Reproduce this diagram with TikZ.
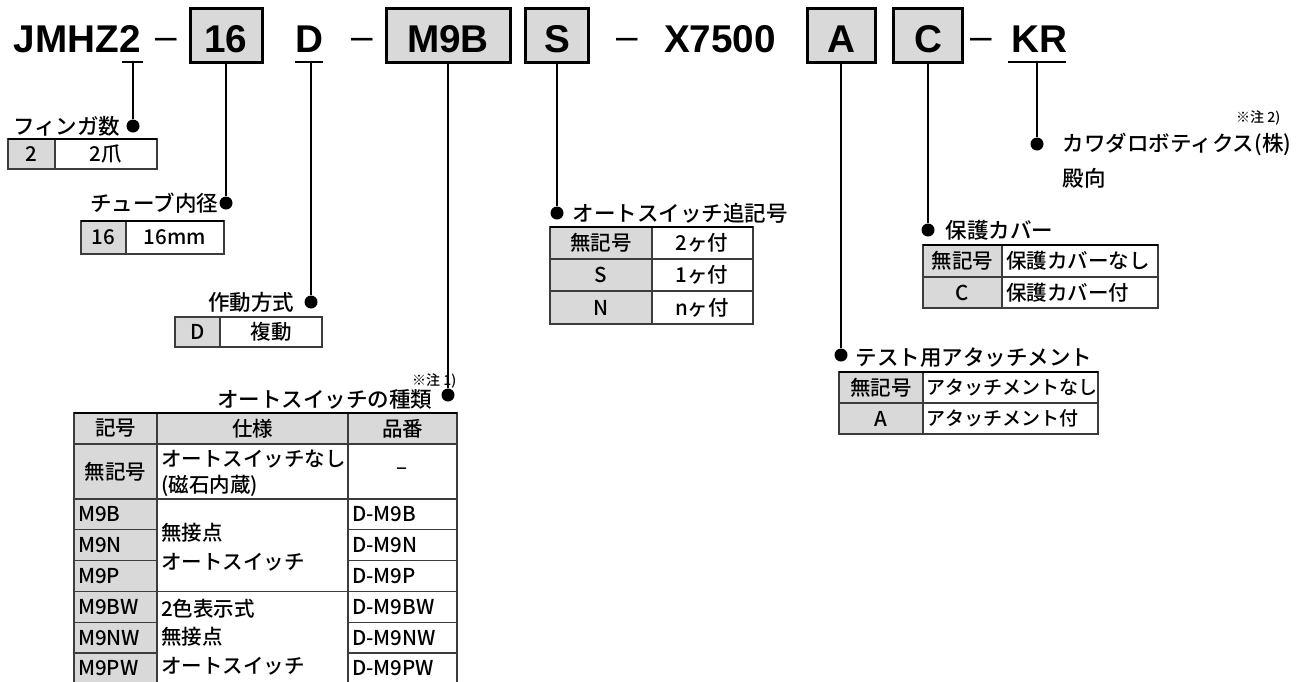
\documentclass[tikz,border=0pt]{standalone}
\usepackage{fontspec}
\setmainfont{Liberation Sans}
\newfontfamily\jp{Noto Sans CJK JP Medium}
\usepackage{tikz}
\usetikzlibrary{positioning,calc}
\definecolor{keygray}{RGB}{217,217,217}
\definecolor{rulegray}{RGB}{60,60,60}
\tikzset{
  % 品番の文字
  partno/.style={font=\fontsize{38.7}{40}\selectfont\bfseries, inner sep=0pt, anchor=base},
  partdash/.style={font=\fontsize{38.7}{40}\selectfont, inner sep=0pt, anchor=base},
  % 品番の枠
  partbox/.style={partno, draw, line width=3pt, fill=keygray, text height=44pt, text depth=10pt},
  % 引出線と黒丸
  wire/.style={line width=2pt},
  uline/.style={line width=2.2pt},
  pin/.style={circle, fill, inner sep=0pt, minimum size=13pt},
  % 見出しと注記
  lbl/.style={font=\jp\fontsize{21.5}{24}\selectfont, inner sep=0pt},
  remark/.style={font=\jp\fontsize{14}{16}\selectfont, inner sep=0pt},
  % 表
  cell/.style={font=\jp\fontsize{20.5}{26}\selectfont, inner sep=0pt},
  tline/.style={line width=1.2pt, draw=rulegray},
  ttop/.style={line width=2.6pt},
}

\begin{document}
\begin{tikzpicture}[x=1pt, y=-1pt]
  \useasboundingbox (0,0) rectangle (1309,681);
  \clip (0,0) rectangle (1309,681);

  % Title
  \node[partno, anchor=base east] (t2) at (141,52) {2};
  \node[partno, anchor=base east] (t0) at (t2.base west) {JMHZ};
  \node[partdash] (m1) at (166,49) {–};
  \node[partbox, minimum width=72pt] (b16) at (226,52) {16};
  \node[partno] (tD) at (309,52) {D};
  \node[partdash] (m2) at (362,49) {–};
  \node[partbox, minimum width=124pt] (bM9B) at (448,52) {M9B};
  \node[partbox, minimum width=63pt] (bS) at (557,52) {S};
  \node[partdash] (m3) at (627,49) {–};
  \node[partno] (tX) at (720,52) {X7500};
  \node[partbox, minimum width=68pt] (bA) at (841,52) {A};
  \node[partbox, minimum width=69pt] (bC) at (928,52) {C};
  \node[partdash] (m4) at (981,49) {–};
  \node[partno] (tKR) at (1039,52) {KR};

  % Underlines
  \draw[uline] (122,62) -- (143,62);
  \draw[uline] (295,62) -- (323,62);
  \draw[uline] (1008,62) -- (1066,62);
  \coordinate (u2) at (133,62);
  \coordinate (uD) at (311,62);
  \coordinate (uKR) at (1037,62);

  % Pins
  \node[pin] (p2) at (133,126) {};
  \node[pin] (p16) at (226,203) {};
  \node[pin] (pD) at (311,302) {};
  \node[pin] (pM9B) at (448,395) {};
  \node[pin] (pS) at (557,213) {};
  \node[pin] (pA) at (841,355) {};
  \node[pin] (pC) at (928,230) {};
  \node[pin] (pKR) at (1037,144) {};

  % Leader lines
  \draw[wire] (u2) -- (p2);
  \draw[wire] (b16) -- (p16);
  \draw[wire] (uD) -- (pD);
  \draw[wire] (bM9B) -- (pM9B);
  \draw[wire] (bS) -- (pS);
  \draw[wire] (bA) -- (pA);
  \draw[wire] (bC) -- (pC);
  \draw[wire] (uKR) -- (pKR);

  % Labels
  \node[lbl, left=6pt of p2] (l2) {フィンガ数};
  \node[lbl, left=1pt of p16] (l16) {チューブ内径};
  \node[lbl, left=10pt of pD] (lD) {作動方式};
  \node[lbl, left=9pt of pM9B, yshift=-4pt] (lM9B) {オートスイッチの種類};
  \node[remark, anchor=west] (n1) at (412,381) {※注 1)};
  \node[lbl, right=9pt of pS] (lS) {オートスイッチ追記号};
  \node[lbl, right=11pt of pC] (lC) {保護カバー};
  \node[lbl, right=8pt of pA, yshift=-3pt] (lA) {テスト用アタッチメント};
  \node[lbl, right=19pt of pKR] (lKR) {カワダロボティクス(株)};
  \node[lbl, anchor=west] (lKR2) at ($(lKR.west)+(0,34)$) {殿向};
  \node[remark, anchor=west] (n2) at (1236,118) {※注 2)};

  % Table: フィンガ数
  \fill[keygray] (8,139) rectangle (55,169);
  \draw[tline] (8,139) rectangle (157,169) (55,139) -- (55,169);
  \draw[ttop] (8,139) -- (157,139);
  \node[cell] (c2a) at (31.5,154) {2};
  \node[cell] (c2b) at (106,154) {2爪};

  % Table: チューブ内径
  \fill[keygray] (81,221) rectangle (126,254);
  \draw[tline] (81,221) rectangle (224,254) (126,221) -- (126,254);
  \draw[ttop] (81,221) -- (224,221);
  \node[cell] (c16a) at (103.5,237.5) {16};
  \node[cell] (c16b) at (175,237.5) {16mm};

  % Table: 作動方式
  \fill[keygray] (175,317) rectangle (220,347);
  \draw[tline] (175,317) rectangle (322,347) (220,317) -- (220,347);
  \node[cell] (cDa) at (197.5,332) {D};
  \node[cell] (cDb) at (271,332) {複動};

  % Table: オートスイッチ追記号
  \fill[keygray] (550,227) rectangle (652,324);
  \draw[tline] (550,227) rectangle (753,324) (652,227) -- (652,324);
  \draw[tline] (550,259) -- (753,259) (550,291) -- (753,291);
  \draw[ttop] (550,227) -- (753,227);
  \node[cell] (cSa) at (601,243) {無記号};
  \node[cell] (cSb) at (702,243) {2ヶ付};
  \node[cell] (cSc) at (601,275) {S};
  \node[cell] (cSd) at (702,275) {1ヶ付};
  \node[cell] (cSe) at (601,307.5) {N};
  \node[cell] (cSf) at (702,307.5) {nヶ付};

  % Table: 保護カバー
  \fill[keygray] (923,245) rectangle (1002,308);
  \draw[tline] (923,245) rectangle (1158,308) (1002,245) -- (1002,308);
  \draw[tline] (923,277) -- (1158,277);
  \draw[ttop] (923,245) -- (1158,245);
  \node[cell] (cCa) at (962.5,261) {無記号};
  \node[cell, anchor=west] (cCb) at (1006,261) {保護カバーなし};
  \node[cell] (cCc) at (962.5,292.5) {C};
  \node[cell, anchor=west] (cCd) at (1006,292.5) {保護カバー付};

  % Table: テスト用アタッチメント
  \fill[keygray] (839,372) rectangle (923,434);
  \draw[tline] (839,372) rectangle (1098,434) (923,372) -- (923,434);
  \draw[tline] (839,403) -- (1098,403);
  \draw[ttop] (839,372) -- (1098,372);
  \node[cell] (cAa) at (881,387.5) {無記号};
  \node[cell, anchor=west, font=\jp\fontsize{19}{22}\selectfont] (cAb) at (926,387.5) {アタッチメントなし};
  \node[cell] (cAc) at (881,418.5) {A};
  \node[cell, anchor=west, font=\jp\fontsize{19}{22}\selectfont] (cAd) at (926,418.5) {アタッチメント付};

  % Table: オートスイッチの種類
  \fill[keygray] (74,413) rectangle (457,444);
  \fill[keygray] (74,444) rectangle (157,690);
  \draw[tline] (74,413) rectangle (457,690);
  \draw[tline] (157,413) -- (157,690) (348,413) -- (348,690);
  \draw[tline] (74,444) -- (457,444) (74,499) -- (457,499) (74,591.4) -- (457,591.4);
  \foreach \y in {529.8,560.6,622.2,653} {
    \draw[tline] (74,\y) -- (157,\y) (348,\y) -- (457,\y);
  }
  \draw[ttop] (74,413) -- (457,413);
  \node[cell] (hKey) at (115.5,428.5) {記号};
  \node[cell] (hSpec) at (252.5,428.5) {仕様};
  \node[cell] (hNo) at (402.5,428.5) {品番};
  \node[cell] (kNone) at (115.5,471.5) {無記号};
  \node[cell, anchor=west, align=left] (sNone) at (161,473) {オートスイッチなし\\(磁石内蔵)};
  \node[cell] (dNone) at (402.5,471.5) {–};
  \foreach \code [count=\i] in {M9B,M9N,M9P,M9BW,M9NW,M9PW} {
    \pgfmathsetmacro{\ymid}{499+(\i-1)*30.8+15.4}
    \node[cell, anchor=west] (k\code) at (78,\ymid) {\code};
    \node[cell, anchor=west] (d\code) at (352,\ymid) {D-\code};
  }
  \node[cell, anchor=west, align=left, font=\jp\fontsize{20.5}{29}\selectfont] (sMono) at (161,547) {無接点\\オートスイッチ};
  \node[cell, anchor=west, align=left, font=\jp\fontsize{20.5}{28.5}\selectfont] (sDual) at (161,637) {2色表示式\\無接点\\オートスイッチ};
\end{tikzpicture}
\end{document}
